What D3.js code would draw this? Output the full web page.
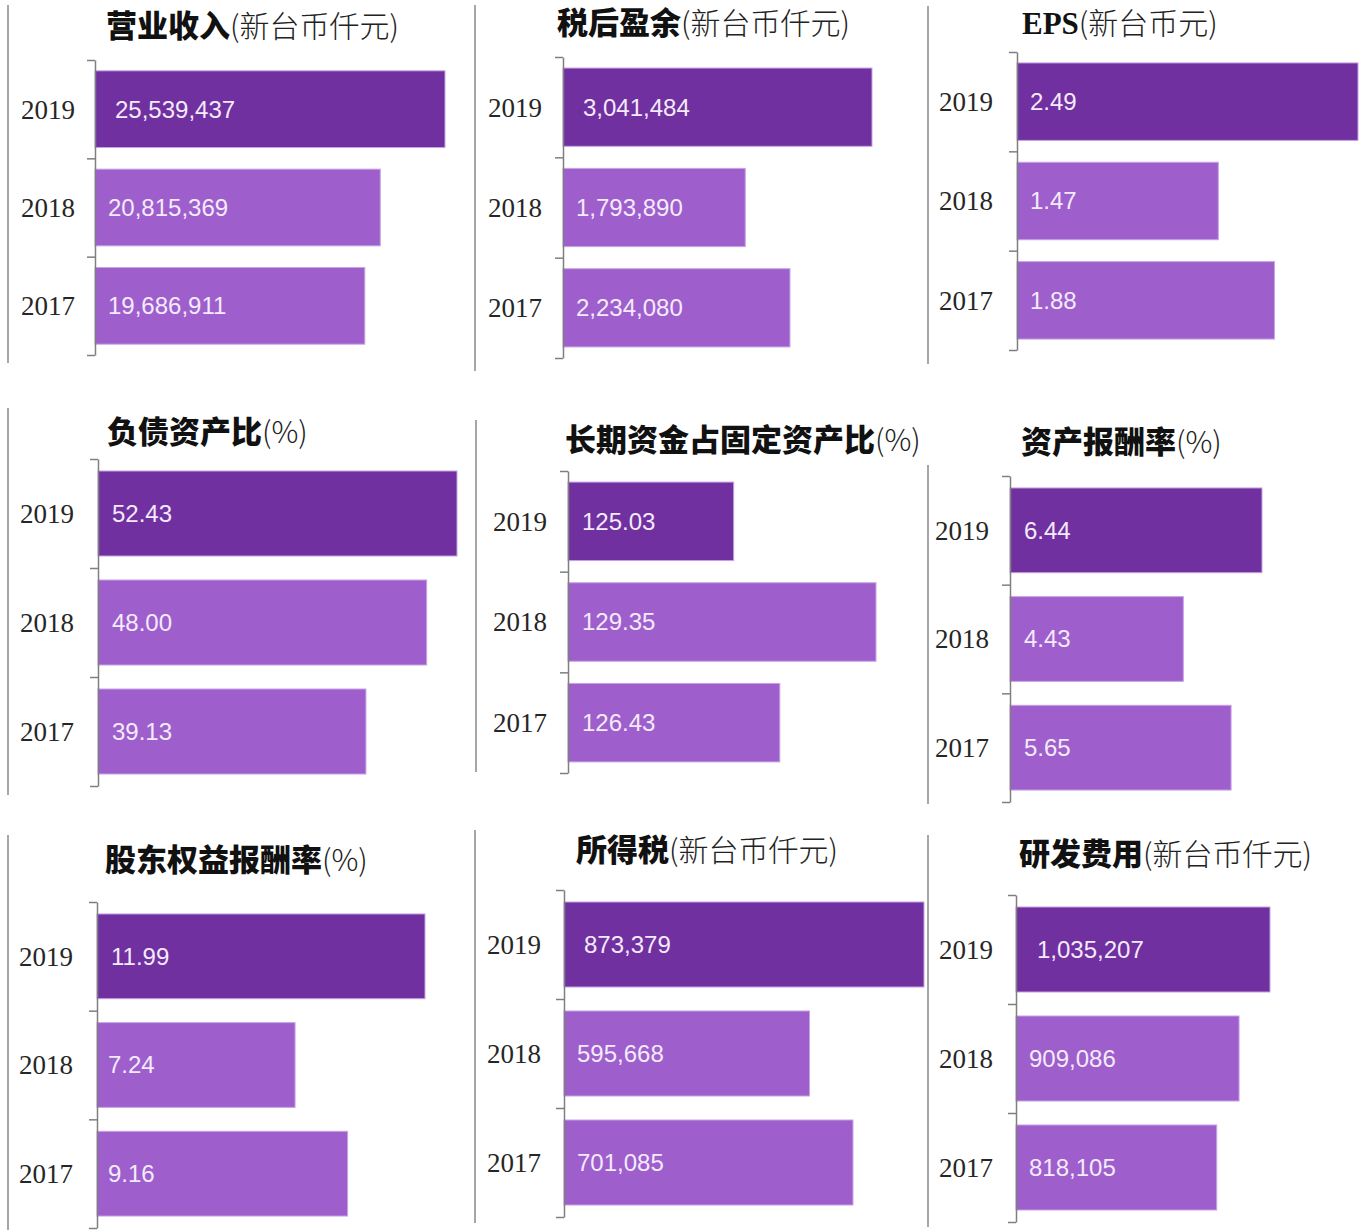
<!DOCTYPE html>
<html>
<head>
<meta charset="utf-8">
<script src="https://cdn.jsdelivr.net/npm/d3@7"></script>
<style>
  html, body { margin: 0; padding: 0; background: #fff; }
  svg { display: block; }
</style>
</head>
<body>
<svg id="chart" width="1365" height="1231"></svg>
<script>
// Data
const years = ['2019', '2018', '2017'];

const titleBold = ['营业收入', '税后盈余', 'EPS', '负债资产比', '长期资金占固定资产比', '资产报酬率', '股东权益报酬率', '所得税', '研发费用'];
const titleUnit = ['(新台币仟元)', '(新台币仟元)', '(新台币元)', '(%)', '(%)', '(%)', '(%)', '(新台币仟元)', '(新台币仟元)'];

const revenue = [25539437, 20815369, 19686911];
const netIncome = [3041484, 1793890, 2234080];
const eps = [2.49, 1.47, 1.88];
const debtRatio = [52.43, 48.00, 39.13];
const longTermFundRatio = [125.03, 129.35, 126.43];
const roa = [6.44, 4.43, 5.65];
const roe = [11.99, 7.24, 9.16];
const incomeTax = [873379, 595668, 701085];
const rdExpense = [1035207, 909086, 818105];

const panelValues = [revenue, netIncome, eps, debtRatio, longTermFundRatio, roa, roe, incomeTax, rdExpense];
const axisMin = [0, 0, 0, 0, 120, 0, 0, 0, 0];
const valueFormat = [',', ',', '.2f', '.2f', '.2f', '.2f', '.2f', ',', ','];

// Layout of each small chart (pixels)
const layout = [
    {ax: 95,   top: 60,  bot: 355,  end: 445,  yearR: 75,  tx: 106,  ty: 37,  pad: [20, 13, 13]},
    {ax: 563,  top: 57,  bot: 358,  end: 872,  yearR: 542, tx: 557,  ty: 34,  pad: [20, 13, 13]},
    {ax: 1017, top: 52,  bot: 350,  end: 1358, yearR: 993, tx: 1022, ty: 34,  pad: [13, 13, 13]},
    {ax: 98,   top: 459, bot: 786,  end: 457,  yearR: 74,  tx: 107,  ty: 443, pad: [14, 14, 14]},
    {ax: 568,  top: 471, bot: 773,  end: 876,  yearR: 547, tx: 565,  ty: 451, pad: [14, 14, 14]},
    {ax: 1010, top: 476, bot: 802,  end: 1262, yearR: 989, tx: 1021, ty: 453, pad: [14, 14, 14]},
    {ax: 97,   top: 902, bot: 1228, end: 425,  yearR: 73,  tx: 105,  ty: 871, pad: [14, 11, 11]},
    {ax: 564,  top: 890, bot: 1217, end: 924,  yearR: 541, tx: 576,  ty: 861, pad: [20, 13, 13]},
    {ax: 1016, top: 895, bot: 1222, end: 1270, yearR: 993, tx: 1019, ty: 865, pad: [21, 13, 13]}
];

// Grey divider lines between the charts
const dividers = [
    {x: 8, y1: 5, y2: 363}, {x: 475, y1: 5, y2: 371}, {x: 928, y1: 6, y2: 364},
    {x: 8, y1: 408, y2: 795}, {x: 476, y1: 420, y2: 772}, {x: 928, y1: 465, y2: 804},
    {x: 8, y1: 835, y2: 1230}, {x: 475, y1: 830, y2: 1223}, {x: 928, y1: 835, y2: 1227}
];

const barDark = '#7030a0';
const barLight = '#9e5fcd';

const svg = d3.select('#chart');

svg.append('g')
    .selectAll('line')
    .data(dividers)
    .enter()
    .append('line')
    .attr('x1', d => d.x)
    .attr('x2', d => d.x)
    .attr('y1', d => d.y1)
    .attr('y2', d => d.y2)
    .style('stroke', '#a6a6a6')
    .style('stroke-width', 2);

panelValues.forEach((values, i) => {
    const lay = layout[i];
    const rows = years.map((yr, j) => ({year: yr, value: values[j], pad: lay.pad[j], idx: j}));

    const x = d3.scaleLinear()
        .domain([axisMin[i], d3.max(values)])
        .range([lay.ax, lay.end]);

    const y = d3.scaleBand()
        .domain(years)
        .range([lay.top, lay.bot])
        .paddingInner(0.22)
        .paddingOuter(0.11);

    const g = svg.append('g');

    // Title: bold name followed by unit
    const title = g.append('text')
        .attr('x', lay.tx)
        .attr('y', lay.ty)
        .style('fill', '#111');
    title.append('tspan')
        .text(titleBold[i])
        .style('font-family', "'Liberation Serif', 'Noto Sans CJK SC'")
        .style('font-weight', 900)
        .style('font-size', '31px');
    title.append('tspan')
        .text(titleUnit[i])
        .style('font-family', "'Noto Sans CJK SC'")
        .style('font-weight', 300)
        .style('font-size', '30px')
        .style('fill', '#222');

    // Bars
    g.selectAll('rect')
        .data(rows)
        .enter()
        .append('rect')
        .attr('x', x(axisMin[i]))
        .attr('y', d => y(d.year))
        .attr('width', d => x(d.value) - x(axisMin[i]))
        .attr('height', y.bandwidth())
        .style('fill', d => d.idx === 0 ? barDark : barLight)
        .style('stroke', '#c7a4e4')
        .style('stroke-width', 1);

    // Category axis with ticks between the categories
    const tickScale = d3.scaleLinear().domain([0, years.length]).range([lay.top, lay.bot]);
    const axis = g.append('g')
        .attr('transform', `translate(${lay.ax}, 0)`)
        .call(d3.axisLeft(tickScale).tickValues(d3.range(years.length + 1)).tickFormat('').tickSize(8).tickSizeOuter(0));
    axis.select('.domain').style('stroke', '#7f7f7f').style('stroke-width', 1.5);
    axis.selectAll('.tick line').style('stroke', '#7f7f7f').style('stroke-width', 1.5);

    // Year labels
    g.selectAll('.year')
        .data(rows)
        .enter()
        .append('text')
        .attr('class', 'year')
        .attr('x', lay.yearR)
        .attr('y', d => y(d.year) + y.bandwidth() / 2)
        .attr('dy', '0.35em')
        .attr('text-anchor', 'end')
        .style('font-family', "'Liberation Serif', serif")
        .style('font-size', '27px')
        .style('fill', '#262626')
        .text(d => d.year);

    // Value labels inside the bars
    const fmt = d3.format(valueFormat[i]);
    g.selectAll('.val')
        .data(rows)
        .enter()
        .append('text')
        .attr('class', 'val')
        .attr('x', d => x(axisMin[i]) + d.pad)
        .attr('y', d => y(d.year) + y.bandwidth() / 2)
        .attr('dy', '0.35em')
        .style('font-family', "'Liberation Sans', sans-serif")
        .style('font-size', '24px')
        .style('fill', '#f3ebfb')
        .text(d => fmt(d.value));
});
</script>
</body>
</html>
